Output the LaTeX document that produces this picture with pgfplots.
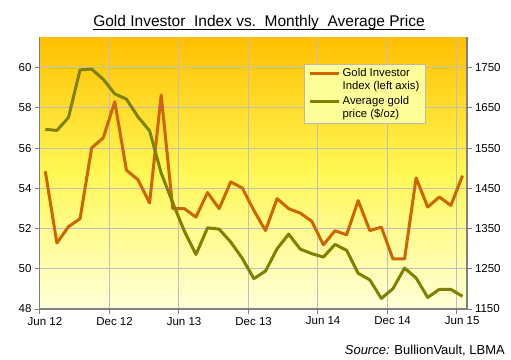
\documentclass[border=0pt]{standalone}
\usepackage{pgfplots}
\usepackage{pgfplotstable}
\pgfplotsset{compat=1.18}
\usepackage{fontspec}
\setmainfont{Liberation Sans}
\definecolor{goldidx}{RGB}{204,102,0}
\definecolor{goldpx}{RGB}{128,128,0}
\definecolor{bgtop}{RGB}{255,192,0}
\definecolor{bgmid}{RGB}{255,248,85}
\definecolor{bgbot}{RGB}{255,255,218}
\definecolor{gridc}{RGB}{190,190,190}
\definecolor{axc}{RGB}{128,128,128}
\definecolor{legfill}{RGB}{255,255,153}
\definecolor{legdraw}{RGB}{185,185,185}

\pgfplotstableread{
m idx price
0.5 54.85 1596.7
1.5 51.28 1593.9
2.5 52.09 1626.0
3.5 52.49 1744.5
4.5 56.01 1746.6
5.5 56.51 1721.1
6.5 58.31 1684.8
7.5 54.90 1671.9
8.5 54.43 1627.6
9.5 53.27 1593.1
10.5 58.64 1487.9
11.5 52.99 1414.0
12.5 52.99 1343.4
13.5 52.57 1285.5
14.5 53.79 1351.7
15.5 52.99 1348.6
16.5 54.32 1316.6
17.5 54.02 1275.8
18.5 52.90 1225.4
19.5 51.90 1244.3
20.5 53.49 1299.6
21.5 52.99 1336.1
22.5 52.77 1299.0
23.5 52.36 1287.5
24.5 51.19 1279.1
25.5 51.89 1310.6
26.5 51.69 1295.9
27.5 53.39 1238.8
28.5 51.90 1222.5
29.5 52.07 1176.3
30.5 50.49 1200.6
31.5 50.49 1251.8
32.5 54.52 1227.1
33.5 53.07 1178.6
34.5 53.57 1198.9
35.5 53.15 1198.6
36.5 54.63 1181.5
}\datatable

\pgfplotsset{
  common/.style={
    at={(39.5pt,50pt)}, anchor=south west,
    scale only axis, width=427.5pt, height=271.5pt,
    xmin=0, xmax=36.89,
    axis line style={-, axc, line width=1.3pt},
    tick style={axc, line width=1pt},
    major tick length=4.5pt,
    tick align=outside,
    /pgf/number format/assume math mode=true,
    /pgf/number format/1000 sep={},
    ticklabel style={font=\fontsize{11.5}{13}\selectfont, text=black},
  }
}

\begin{document}
\begin{tikzpicture}[x=1pt,y=1pt]
\path[use as bounding box] (0,0) rectangle (511,359);
\begin{axis}[common,
  ymin=48, ymax=61.5,
  axis x line*=bottom, axis y line*=left,
  xtick={0,6,12,18,24,30,36},
  xticklabels={Jun 12,Dec 12,Jun 13,Dec 13,Jun 14,Dec 14,Jun 15},
  xticklabel style={xshift=5.5pt},
  ytick={48,50,...,60},
  grid=major, grid style={gridc, line width=0.9pt},
  axis background/.style={shade, top color=bgtop, bottom color=bgbot, middle color=bgmid},
]
\addplot[goldidx, line width=3pt, line join=round] table[x=m, y=idx]{\datatable};
\end{axis}
\begin{axis}[common,
  ymin=1150, ymax=1825,
  axis x line=none, axis y line*=right,
  ytick={1150,1250,...,1750},
  legend style={at={(0.6194,0.9024)}, anchor=north west, fill=legfill, draw=legdraw,
    line width=0.8pt, font=\fontsize{11.3}{12.7}\selectfont,
    cells={align=left, anchor=west, inner sep=1pt},
    inner xsep=4pt, inner ysep=2pt, row sep=2pt},
  legend image code/.code={\draw[#1] (0pt,6.3pt) -- (29pt,6.3pt);},
]
\addlegendimage{goldidx, line width=3pt}
\addlegendentry{Gold Investor\\Index (left axis)}
\addplot[goldpx, line width=3pt, line join=round] table[x=m, y=price]{\datatable};
\addlegendentry{Average gold\\price (\$/oz)}
\end{axis}
\node[anchor=base, inner sep=0pt] (t) at (259,332) {\fontsize{15.5}{18}\selectfont Gold Investor\ \ Index vs.\ \ Monthly\ \ Average Price};
\draw[line width=1pt] ([yshift=-2.2pt]t.base west) -- ([yshift=-2.2pt]t.base east);
\node[anchor=base east, inner sep=0pt] at (505,4.7) {\fontsize{13}{15}\selectfont\textit{Source:} BullionVault, LBMA};
\end{tikzpicture}
\end{document}
